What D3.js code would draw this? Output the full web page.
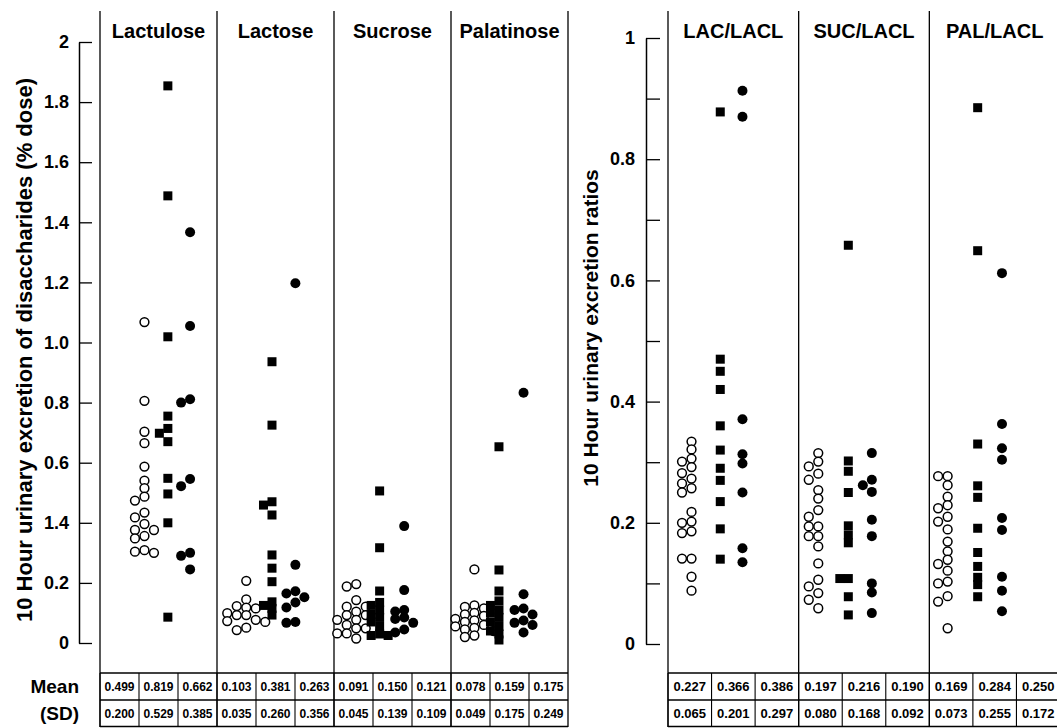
<!DOCTYPE html>
<html><head><meta charset="utf-8">
<script src="https://cdn.jsdelivr.net/npm/d3@7"></script>
<style>
body{margin:0;background:#fff}
svg{display:block}
text{font-family:"Liberation Sans",Arial,Helvetica,sans-serif;fill:#000}
</style>
</head><body>
<svg id="chart" width="1057" height="728"></svg>
<script>
// ---------------- DATA ----------------
const leftPanels = ["Lactulose", "Lactose", "Sucrose", "Palatinose"];
const rightPanels = ["LAC/LACL", "SUC/LACL", "PAL/LACL"];
const groups = ["open", "square", "filled"];

const leftTickValues = [0, 0.2, 0.4, 0.6, 0.8, 1.0, 1.2, 1.4, 1.6, 1.8, 2];
const leftTickLabels = ["0", "0.2", "1.4", "0.6", "0.8", "1.0", "1.2", "1.4", "1.6", "1.8", "2"];
const rightTickValues = [0, 0.1, 0.2, 0.3, 0.4, 0.5, 0.6, 0.7, 0.8, 0.9, 1];
const rightTickLabels = ["0", "", "0.2", "", "0.4", "", "0.6", "", "0.8", "", "1"];

const leftAxisTitle = "10 Hour urinary excretion of disaccharides (% dose)";
const rightAxisTitle = "10 Hour urinary excretion ratios";
const rowLabels = ["Mean", "(SD)"];

// Lactulose
const lactuloseOpen = [1.068, 0.806, 0.703, 0.665, 0.587, 0.540, 0.515, 0.487, 0.474, 0.434, 0.418, 0.396, 0.376, 0.376, 0.356, 0.348, 0.300, 0.309, 0.304];
const lactuloseSquare = [1.854, 1.488, 1.019, 0.755, 0.714, 0.698, 0.670, 0.548, 0.496, 0.400, 0.086];
const lactuloseFilled = [1.367, 1.055, 0.811, 0.800, 0.546, 0.522, 0.300, 0.290, 0.245];
// Lactose
const lactoseOpen = [0.207, 0.145, 0.123, 0.118, 0.115, 0.099, 0.093, 0.093, 0.077, 0.073, 0.070, 0.051, 0.043];
const lactoseSquare = [0.936, 0.725, 0.470, 0.459, 0.426, 0.293, 0.249, 0.204, 0.137, 0.125, 0.115, 0.093];
const lactoseFilled = [1.197, 0.260, 0.172, 0.165, 0.152, 0.135, 0.118, 0.070, 0.067];
// Sucrose
const sucroseOpen = [0.196, 0.188, 0.143, 0.121, 0.121, 0.104, 0.093, 0.093, 0.077, 0.077, 0.060, 0.049, 0.049, 0.032, 0.032, 0.015];
const sucroseSquare = [0.506, 0.317, 0.173, 0.135, 0.125, 0.110, 0.095, 0.085, 0.070, 0.055, 0.030, 0.025, 0.025];
const sucroseFilled = [0.389, 0.176, 0.110, 0.105, 0.085, 0.080, 0.067, 0.045, 0.035];
// Palatinose
const palatinoseOpen = [0.245, 0.125, 0.120, 0.115, 0.100, 0.095, 0.090, 0.080, 0.075, 0.070, 0.060, 0.055, 0.050, 0.045, 0.040, 0.025, 0.020];
const palatinoseSquare = [0.653, 0.243, 0.173, 0.140, 0.125, 0.110, 0.100, 0.085, 0.070, 0.055, 0.040, 0.030, 0.010];
const palatinoseFilled = [0.833, 0.162, 0.115, 0.110, 0.095, 0.075, 0.067, 0.060, 0.035];
// LAC/LACL
const lacOpen = [0.334, 0.321, 0.306, 0.301, 0.292, 0.282, 0.273, 0.265, 0.257, 0.250, 0.218, 0.202, 0.200, 0.186, 0.183, 0.141, 0.141, 0.111, 0.088];
const lacSquare = [0.878, 0.470, 0.450, 0.420, 0.360, 0.320, 0.290, 0.270, 0.235, 0.190, 0.140];
const lacFilled = [0.913, 0.870, 0.371, 0.313, 0.298, 0.250, 0.158, 0.135];
// SUC/LACL
const sucOpen = [0.315, 0.301, 0.293, 0.281, 0.271, 0.254, 0.240, 0.221, 0.210, 0.194, 0.194, 0.178, 0.178, 0.161, 0.133, 0.106, 0.095, 0.084, 0.073, 0.059];
const sucSquare = [0.658, 0.302, 0.285, 0.250, 0.195, 0.180, 0.167, 0.108, 0.108, 0.078, 0.048];
const sucFilled = [0.315, 0.271, 0.262, 0.251, 0.205, 0.178, 0.100, 0.085, 0.051];
// PAL/LACL
const palOpen = [0.277, 0.277, 0.262, 0.243, 0.229, 0.224, 0.210, 0.202, 0.189, 0.169, 0.153, 0.139, 0.132, 0.121, 0.103, 0.100, 0.079, 0.070, 0.026];
const palSquare = [0.885, 0.649, 0.330, 0.261, 0.242, 0.191, 0.151, 0.128, 0.110, 0.098, 0.078];
const palFilled = [0.612, 0.363, 0.323, 0.304, 0.208, 0.188, 0.111, 0.088, 0.054];

const leftMeans = ["0.499", "0.819", "0.662", "0.103", "0.381", "0.263", "0.091", "0.150", "0.121", "0.078", "0.159", "0.175"];
const leftSDs = ["0.200", "0.529", "0.385", "0.035", "0.260", "0.356", "0.045", "0.139", "0.109", "0.049", "0.175", "0.249"];
const rightMeans = ["0.227", "0.366", "0.386", "0.197", "0.216", "0.190", "0.169", "0.284", "0.250"];
const rightSDs = ["0.065", "0.201", "0.297", "0.080", "0.168", "0.092", "0.073", "0.255", "0.172"];

// ---------------- LAYOUT ----------------
const leftSeries = [
  [lactuloseOpen, lactuloseSquare, lactuloseFilled],
  [lactoseOpen, lactoseSquare, lactoseFilled],
  [sucroseOpen, sucroseSquare, sucroseFilled],
  [palatinoseOpen, palatinoseSquare, palatinoseFilled]
];
const rightSeries = [
  [lacOpen, lacSquare, lacFilled],
  [sucOpen, sucSquare, sucFilled],
  [palOpen, palSquare, palFilled]
];
// group centre, as fraction of panel width
const leftGroupPos = [[0.38, 0.58, 0.77], [0.25, 0.47, 0.67], [0.19, 0.39, 0.60], [0.20, 0.41, 0.62]];
const rightGroupPos = [[0.18, 0.40, 0.57], [0.15, 0.38, 0.56], [0.14, 0.37, 0.556]];

const svg = d3.select("#chart");
const FONT = '"Liberation Sans",Arial,sans-serif';
const TOP = 11, TABLE_TOP = 673, TABLE_MID = 700, TABLE_BOT = 727;

const yLeft = d3.scaleLinear().domain([0, 2]).range([643, 42]);
const yRight = d3.scaleLinear().domain([0, 1]).range([644, 38]);
const xLeft = d3.scaleBand().domain(leftPanels).range([100, 568]).padding(0);
const xRight = d3.scaleBand().domain(rightPanels).range([668, 1060]).padding(0);

// dodge layout for overlapping markers
function dodge(values, y, cx, step, thresh, square) {
  const pts = values.map(v => ({ v, y: y(v) })).sort((a, b) => a.y - b.y);
  const order = [0, -1, 1, -2, 2, -3, 3, -4, 4];
  const placed = [];
  for (const p of pts) {
    for (const k of order) {
      const x = cx + k * step;
      const ok = placed.every(q => square
        ? (Math.abs(q.x - x) >= thresh || Math.abs(q.y - p.y) >= thresh)
        : Math.hypot(q.x - x, q.y - p.y) >= thresh);
      if (ok) { p.x = x; break; }
    }
    if (p.x === undefined) p.x = cx;
    placed.push(p);
  }
  return pts;
}

function drawSide(panels, series, groupPos, xs, y, means, sds, numSize) {
  const bw = xs.bandwidth();
  const bounds = panels.map(p => xs(p));
  bounds.push(xs(panels[panels.length - 1]) + bw);
  svg.append("g").selectAll("line").data(bounds).join("line")
    .attr("x1", d => d).attr("x2", d => d)
    .attr("y1", TOP).attr("y2", TABLE_BOT)
    .attr("stroke", "#000").attr("stroke-width", 1.3);

  svg.append("g").selectAll("text").data(panels).join("text")
    .attr("x", d => xs(d) + bw / 2).attr("y", 38)
    .attr("text-anchor", "middle")
    .style("font-size", "20px").style("font-weight", "bold")
    .text(d => d);

  panels.forEach((p, i) => {
    groups.forEach((g, j) => {
      const cx = xs(p) + bw * groupPos[i][j];
      const vals = series[i][j];
      const gEl = svg.append("g");
      if (g === "square") {
        const pts = dodge(vals, y, cx, 8.5, 5.5, true);
        gEl.selectAll("rect").data(pts).join("rect")
          .attr("x", d => d.x - 4.5).attr("y", d => d.y - 4.5)
          .attr("width", 9).attr("height", 9).attr("fill", "#000");
      } else if (g === "open") {
        const pts = dodge(vals, y, cx, 9.5, 7.5, false);
        gEl.selectAll("circle").data(pts).join("circle")
          .attr("cx", d => d.x).attr("cy", d => d.y).attr("r", 4.4)
          .attr("fill", "#fff").attr("stroke", "#000").attr("stroke-width", 1.5);
      } else {
        const pts = dodge(vals, y, cx, 9, 7.5, false);
        gEl.selectAll("circle").data(pts).join("circle")
          .attr("cx", d => d.x).attr("cy", d => d.y).attr("r", 5)
          .attr("fill", "#000");
      }
    });
  });

  const cells = [];
  panels.forEach((p, i) => {
    const sub = d3.scaleBand().domain(groups).range([xs(p), xs(p) + bw]);
    groups.forEach((g, j) => {
      cells.push({ x0: sub(g), x1: sub(g) + sub.bandwidth(), mean: means[i * 3 + j], sd: sds[i * 3 + j] });
    });
  });
  const left = bounds[0], right = bounds[bounds.length - 1];
  const tg = svg.append("g");
  tg.selectAll("line.h").data([TABLE_TOP, TABLE_MID, TABLE_BOT - 0.5]).join("line")
    .attr("x1", left).attr("x2", right).attr("y1", d => d).attr("y2", d => d)
    .attr("stroke", "#000").attr("stroke-width", 1.3);
  tg.selectAll("line.v").data(cells).join("line")
    .attr("x1", d => d.x0).attr("x2", d => d.x0)
    .attr("y1", TABLE_TOP).attr("y2", TABLE_BOT)
    .attr("stroke", "#000").attr("stroke-width", 1.1);
  tg.selectAll("text.m").data(cells).join("text")
    .attr("x", d => (d.x0 + d.x1) / 2).attr("y", (TABLE_TOP + TABLE_MID) / 2)
    .attr("text-anchor", "middle").attr("dominant-baseline", "central")
    .style("font-size", numSize + "px").style("font-weight", "bold")
    .text(d => d.mean);
  tg.selectAll("text.s").data(cells).join("text")
    .attr("x", d => (d.x0 + d.x1) / 2).attr("y", (TABLE_MID + TABLE_BOT) / 2)
    .attr("text-anchor", "middle").attr("dominant-baseline", "central")
    .style("font-size", numSize + "px").style("font-weight", "bold")
    .text(d => d.sd);
}

drawSide(leftPanels, leftSeries, leftGroupPos, xLeft, yLeft, leftMeans, leftSDs, 12);
drawSide(rightPanels, rightSeries, rightGroupPos, xRight, yRight, rightMeans, rightSDs, 13);

function styleAxis(g) {
  g.select(".domain").attr("stroke-width", 1.5);
  g.selectAll(".tick line").attr("stroke-width", 1.3);
  g.selectAll(".tick text").style("font-size", "18px").style("font-weight", "bold")
    .style("font-family", FONT).attr("fill", "#000");
}
const axL = svg.append("g").attr("transform", "translate(79,0)")
  .call(d3.axisLeft(yLeft).tickValues(leftTickValues)
    .tickFormat((d, i) => leftTickLabels[i]).tickSizeInner(-13).tickSizeOuter(0).tickPadding(10));
styleAxis(axL);
const axR = svg.append("g").attr("transform", "translate(646,0)")
  .call(d3.axisLeft(yRight).tickValues(rightTickValues)
    .tickFormat((d, i) => rightTickLabels[i]).tickSizeInner(-14).tickSizeOuter(0).tickPadding(11));
styleAxis(axR);

svg.append("text").attr("transform", "translate(24,350) rotate(-90)")
  .attr("text-anchor", "middle").attr("dominant-baseline", "central")
  .style("font-size", "22px").style("font-weight", "bold").text(leftAxisTitle);
svg.append("text").attr("transform", "translate(590,328) rotate(-90)")
  .attr("text-anchor", "middle").attr("dominant-baseline", "central")
  .style("font-size", "21px").style("font-weight", "bold").text(rightAxisTitle);

svg.append("g").selectAll("text").data(rowLabels).join("text")
  .attr("x", 79).attr("y", (d, i) => i === 0 ? (TABLE_TOP + TABLE_MID) / 2 : (TABLE_MID + TABLE_BOT) / 2)
  .attr("text-anchor", "end").attr("dominant-baseline", "central")
  .style("font-size", "19px").style("font-weight", "bold").text(d => d);
</script>
</body></html>
